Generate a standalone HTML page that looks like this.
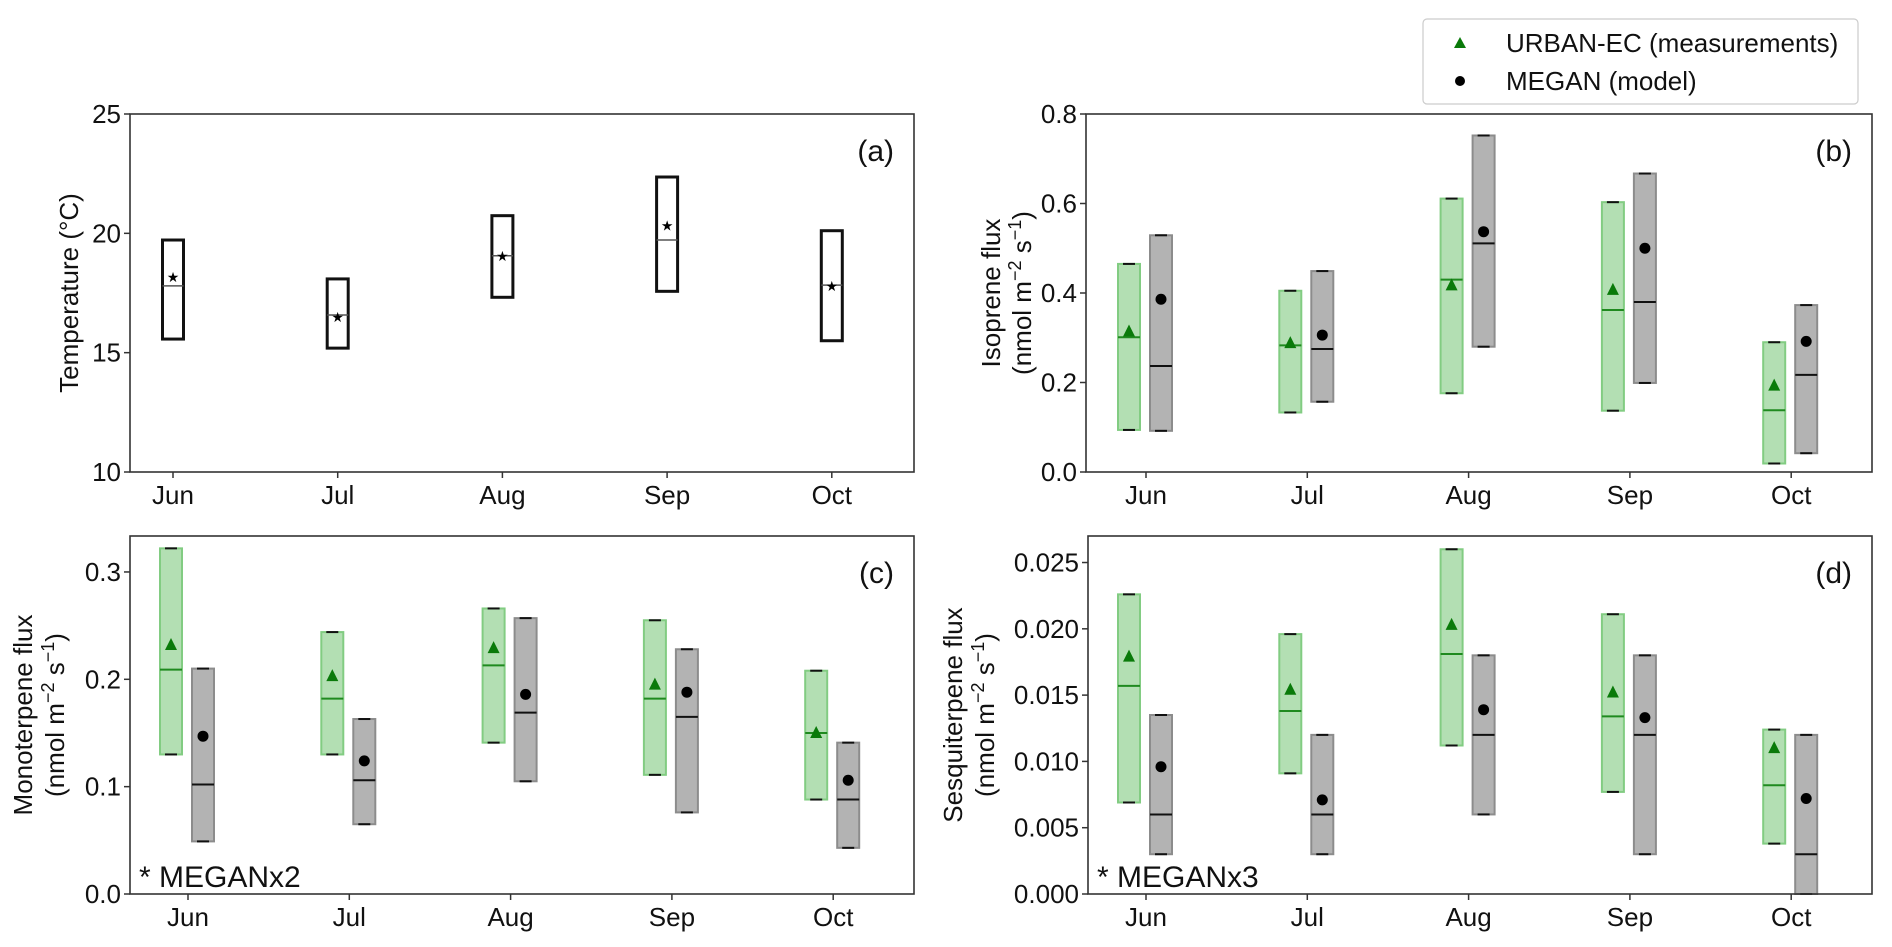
<!DOCTYPE html>
<html><head><meta charset="utf-8"><style>
html,body{margin:0;padding:0;background:#fff;}
svg{display:block;font-family:"Liberation Sans",sans-serif;}
</style></head><body>
<svg id="fig" width="1892" height="947" viewBox="0 0 1892 947" xmlns="http://www.w3.org/2000/svg"></svg>
<script>
const months = ["Jun","Jul","Aug","Sep","Oct"];
// Panel (a) temperature
const tempTop = [19.72,18.09,20.74,22.36,20.11];
const tempBot = [15.57,15.19,17.32,17.57,15.50];
const tempMed = [17.8,16.58,19.06,19.72,17.83];
const tempMean = [18.17,16.5,19.06,20.32,17.8];
const tempTicks = [10,15,20,25];
// Panel (b) isoprene
const isoObsTop = [0.465,0.405,0.611,0.603,0.290];
const isoObsBot = [0.094,0.133,0.176,0.137,0.019];
const isoObsMed = [0.301,0.283,0.430,0.362,0.138];
const isoObsMean = [0.314,0.288,0.417,0.407,0.193];
const isoModTop = [0.529,0.449,0.752,0.667,0.373];
const isoModBot = [0.092,0.157,0.280,0.199,0.042];
const isoModMed = [0.237,0.275,0.511,0.380,0.217];
const isoModMean = [0.386,0.306,0.537,0.500,0.292];
const isoTicks = [0.0,0.2,0.4,0.6,0.8];
// Panel (c) monoterpene
const monoObsTop = [0.322,0.244,0.266,0.255,0.208];
const monoObsBot = [0.130,0.130,0.141,0.111,0.088];
const monoObsMed = [0.209,0.182,0.213,0.182,0.150];
const monoObsMean = [0.232,0.203,0.229,0.195,0.150];
const monoModTop = [0.210,0.163,0.257,0.228,0.141];
const monoModBot = [0.049,0.065,0.105,0.076,0.043];
const monoModMed = [0.102,0.106,0.169,0.165,0.088];
const monoModMean = [0.147,0.124,0.186,0.188,0.106];
const monoTicks = [0.0,0.1,0.2,0.3];
// Panel (d) sesquiterpene
const sesqObsTop = [0.0226,0.0196,0.0260,0.0211,0.0124];
const sesqObsBot = [0.0069,0.0091,0.0112,0.0077,0.0038];
const sesqObsMed = [0.0157,0.0138,0.0181,0.0134,0.0082];
const sesqObsMean = [0.0179,0.0154,0.0203,0.0152,0.0110];
const sesqModTop = [0.0135,0.0120,0.0180,0.0180,0.0120];
const sesqModBot = [0.0030,0.0030,0.0060,0.0030,0.0000];
const sesqModMed = [0.0060,0.0060,0.0120,0.0120,0.0030];
const sesqModMean = [0.0096,0.0071,0.0139,0.0133,0.0072];
const sesqTicks = [0.000,0.005,0.010,0.015,0.020,0.025];

const NS="http://www.w3.org/2000/svg";
const svg=document.getElementById('fig');
const FS=26;
function mk(tag,attrs,parent){const e=document.createElementNS(NS,tag);for(const k in attrs)e.setAttribute(k,attrs[k]);(parent||svg).appendChild(e);return e;}

function panel(o){
  const g=mk('g',{});
  
  
  const sx=i=>o.x0+o.xoff+i*o.xstep;
  const sy=v=>o.y1-(v-o.ymin)/(o.ymax-o.ymin)*(o.y1-o.y0);
  o.sx=sx;o.sy=sy;o.g=g;
  o.yticks.forEach(t=>{
    const y=sy(t);
    const tk=mk('line',{x1:o.x0-6,x2:o.x0,y1:y,y2:y,stroke:'#333','stroke-width':1.5},g);
    
    
    const tl=mk('text',{x:o.x0-9,y:y+9,'text-anchor':'end','font-size':FS,fill:'#111'},g);
    tl.textContent=t.toFixed(o.dec);
    
    
  });
  months.forEach((m,i)=>{
    const x=sx(i);
    const tk=mk('line',{x1:x,x2:x,y1:o.y1,y2:o.y1+6,stroke:'#333','stroke-width':1.5},g);
    
    
    const tl=mk('text',{x:x,y:o.y1+32,'text-anchor':'middle','font-size':FS,fill:'#111'},g);
    tl.textContent=m;
    
    
  });
  const cy=(o.y0+o.y1)/2;
  o.ylab.forEach((l,k)=>{
    const t=mk('text',{x:o.ylx[k],y:cy,'text-anchor':'middle','font-size':FS,fill:'#111',transform:`rotate(-90 ${o.ylx[k]} ${cy})`},g);
    t.innerHTML=l;
    
    
  });
  const pl=mk('text',{x:o.x1-20,y:o.y0+47,'text-anchor':'end','font-size':30,fill:'#111'},g);
  pl.textContent=o.label;
  
  
  return o;
}
function frame(o){
  const f=mk('rect',{x:o.x0,y:o.y0,width:o.x1-o.x0,height:o.y1-o.y0,fill:'none',stroke:'#333','stroke-width':1.6},o.g);
  
  
}
function box(o,i,off,top,bot,med,mean,kind){
  const cx=o.sx(i)+off, w=22, x=cx-w/2;
  const yt=o.sy(top), yb=o.sy(bot);
  const fill=kind==='obs'?'#b3dfb3':'#b3b3b3', edge=kind==='obs'?'#82cc82':'#8c8c8c', mc=kind==='obs'?'#1f8a1f':'#111';
  const r=mk('rect',{x:x,y:yt,width:w,height:yb-yt,fill:fill,stroke:edge,'stroke-width':2},o.g);
  
  
  [yt,yb].forEach(yy=>{const c=mk('line',{x1:cx-6,x2:cx+6,y1:yy,y2:yy,stroke:'#111','stroke-width':2},o.g);
    
    });
  const m=mk('line',{x1:x,x2:x+w,y1:o.sy(med),y2:o.sy(med),stroke:mc,'stroke-width':2},o.g);
  
  
  const ym=o.sy(mean);
  let p;
  if(kind==='obs'){p=mk('path',{d:`M${cx},${ym-7} L${cx+6},${ym+5} L${cx-6},${ym+5} Z`,fill:'#0a7a0a'},o.g);}
  else{p=mk('circle',{cx:cx,cy:ym,r:5.5,fill:'#000'},o.g);}
  
}
function pair(o,ot,ob,om,oa,mt,mb,mm,ma){
  months.forEach((_,i)=>{box(o,i,-17,ot[i],ob[i],om[i],oa[i],'obs');box(o,i,15,mt[i],mb[i],mm[i],ma[i],'mod');});
  frame(o);
}
const flux='(nmol m<tspan font-size="18" dy="-10">−2</tspan><tspan dy="10"> s</tspan><tspan font-size="18" dy="-10">−1</tspan><tspan dy="10">)</tspan>';

const A=panel({name:'panel-a-temperature',x0:130,x1:914,y0:114,y1:472,xoff:43,xstep:164.7,ymin:10,ymax:25,yticks:tempTicks,dec:0,ylab:['Temperature  (°C)'],ylx:[78],label:'(a)'});
months.forEach((_,i)=>{
  const cx=A.sx(i),x=cx-10.5,yt=A.sy(tempTop[i]),yb=A.sy(tempBot[i]);
  const r=mk('rect',{x:x,y:yt,width:21,height:yb-yt,fill:'none',stroke:'#111','stroke-width':3},A.g);
  
  
  const m=mk('line',{x1:x,x2:x+21,y1:A.sy(tempMed[i]),y2:A.sy(tempMed[i]),stroke:'#555','stroke-width':1.5},A.g);
  
  
  const s=mk('text',{x:cx,y:A.sy(tempMean[i])+5,'text-anchor':'middle','font-size':14,fill:'#000'},A.g);
  s.textContent='★';
  
  
});
frame(A);
const B=panel({name:'panel-b-isoprene',x0:1086,x1:1872,y0:114,y1:472,xoff:60,xstep:161.3,ymin:0,ymax:0.8,yticks:isoTicks,dec:1,ylab:['Isoprene flux',flux],ylx:[1000,1031],label:'(b)'});
pair(B,isoObsTop,isoObsBot,isoObsMed,isoObsMean,isoModTop,isoModBot,isoModMed,isoModMean);
const C=panel({name:'panel-c-monoterpene',x0:130,x1:914,y0:536,y1:894,xoff:58,xstep:161.3,ymin:0,ymax:0.3335,yticks:monoTicks,dec:1,ylab:['Monoterpene flux',flux],ylx:[32,64],label:'(c)'});
pair(C,monoObsTop,monoObsBot,monoObsMed,monoObsMean,monoModTop,monoModBot,monoModMed,monoModMean);
const D=panel({name:'panel-d-sesquiterpene',x0:1088,x1:1872,y0:536,y1:894,xoff:58,xstep:161.3,ymin:0,ymax:0.0270,yticks:sesqTicks,dec:3,ylab:['Sesquiterpene flux',flux],ylx:[962,994],label:'(d)'});
pair(D,sesqObsTop,sesqObsBot,sesqObsMed,sesqObsMean,sesqModTop,sesqModBot,sesqModMed,sesqModMean);

[[C,'* MEGANx2'],[D,'* MEGANx3']].forEach(([o,t])=>{
  const n=mk('text',{x:o.x0+9,y:887,'font-size':30,fill:'#111'},o.g);
  n.textContent=t;
  
  
});

const lg=mk('g',{});


mk('rect',{x:1423,y:19,width:435,height:85,rx:4,fill:'#fff',stroke:'#ccc','stroke-width':1.2},lg);
const t1=mk('path',{d:'M1460,37 L1466,48 L1454,48 Z',fill:'#0a7a0a'},lg);


const l1=mk('text',{x:1506,y:52,'font-size':26,fill:'#111'},lg);
l1.textContent='URBAN-EC (measurements)';


const c1=mk('circle',{cx:1460,cy:81,r:5,fill:'#000'},lg);


const l2=mk('text',{x:1506,y:90,'font-size':26,fill:'#111'},lg);
l2.textContent='MEGAN (model)';


</script>
</body></html>
